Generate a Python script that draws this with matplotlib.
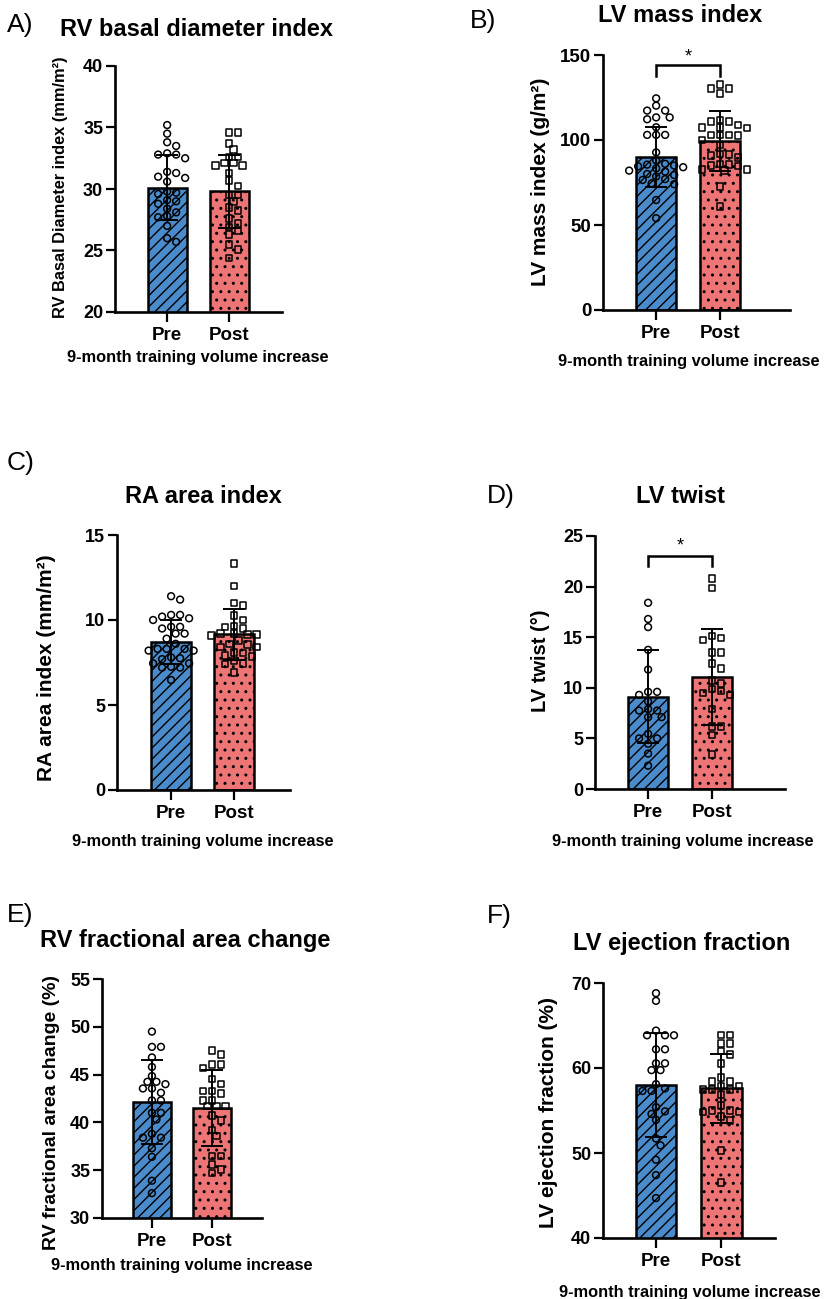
import numpy as np
import matplotlib
matplotlib.use("Agg")
import matplotlib.pyplot as plt

plt.rcParams['font.family'] = ['Liberation Sans', 'DejaVu Sans']
plt.rcParams['hatch.linewidth'] = 1.0

W, H = 832, 1299

groups = ['Pre', 'Post']
xlabel_text = '9-month training volume increase'

# --- panel A: RV basal diameter index
rvbd_pre = [35.2, 34.5, 33.8, 33.5, 32.9, 32.8, 32.8, 32.5, 31.4, 31.3, 31.0, 30.9, 30.6,
            29.8, 29.7, 29.6, 29.1, 29.0, 28.8, 28.4, 28.1, 27.8, 27.7, 27.0, 26.0, 25.7]
rvbd_post = [34.6, 34.6, 33.7, 33.2, 32.6, 32.6, 32.1, 32.1, 31.9, 31.9, 31.3, 30.7, 30.25,
             29.5, 29.5, 29.0, 28.5, 28.25, 27.6, 27.2, 26.9, 26.6, 26.3, 25.5, 25.1, 24.4]
rvbd_mean = [30.1, 29.8]
rvbd_sd = [2.65, 2.95]

# --- panel B: LV mass index
lvm_pre = [124.5, 120.2, 117.3, 117.3, 113.3, 113.3, 112.2, 107.5, 103, 103, 103, 92.7,
           88, 86, 85.5, 85, 84.5, 84, 83.3, 82, 81.4, 80, 79.4, 78.5, 77, 76.5, 74.5, 74,
           64.7, 54]
lvm_post = [132.7, 130.4, 130.4, 127.5, 111.8, 110.8, 110.8, 108.8, 107.5, 107.5, 107,
            103, 103, 103, 102.5, 100, 97, 91.8, 91.5, 91, 89.8, 86, 85.5, 85, 84.7, 82.7,
            82.5, 82, 72.5, 60.8]
lvm_mean = [90.0, 99.5]
lvm_sd = [17.7, 17.6]

# --- panel C: RA area index
ra_pre = [11.4, 11.2, 10.3, 10.3, 10.2, 10.1, 10.0, 9.6, 9.6, 9.5, 9.2, 9.2, 8.9, 8.6,
          8.3, 8.3, 8.3, 8.2, 8.2, 7.8, 7.75, 7.7, 7.45, 7.45, 7.25, 7.2, 7.2, 6.47]
ra_post = [13.33, 12.0, 11.0, 10.85, 10.25, 10.0, 9.65, 9.6, 9.5, 9.2, 9.2, 9.15, 9.15,
           9.1, 8.8, 8.6, 8.55, 8.4, 8.4, 8.1, 8.05, 7.9, 7.85, 7.6, 7.45, 7.4, 6.9]
ra_mean = [8.7, 9.15]
ra_sd = [1.3, 1.5]

# --- panel D: LV twist
tw_pre = [18.4, 16.8, 16.0, 13.75, 11.8, 9.6, 9.6, 9.3, 8.65, 7.9, 7.75, 7.75, 7.1, 7.1,
          5.45, 5.0, 5.0, 4.47, 3.5, 2.3]
tw_post = [20.8, 19.85, 15.1, 14.9, 14.7, 13.5, 13.5, 12.4, 11.9, 10.7, 10.45, 9.9, 9.7,
           9.5, 9.3, 7.9, 6.2, 6.2, 5.35, 3.4]
tw_mean = [9.1, 11.1]
tw_sd = [4.6, 4.75]

# --- panel E: RV fractional area change
fac_pre = [49.5, 47.9, 47.9, 46.8, 45.8, 44.85, 44.25, 44.25, 44.0, 43.55, 43.55, 43.1,
           42.3, 42.3, 41.0, 41.0, 40.3, 38.8, 38.4, 38.4, 37.3, 36.4, 33.9, 32.6]
fac_post = [47.5, 47.1, 46.05, 46.05, 45.7, 44.55, 44.0, 43.3, 43.3, 43.0, 42.3, 42.3,
            41.7, 41.7, 41.7, 40.7, 40.2, 39.2, 38.6, 36.5, 36.5, 35.6, 35.1, 34.7]
fac_mean = [42.1, 41.5]
fac_sd = [4.4, 4.0]

# --- panel F: LV ejection fraction
ef_pre = [68.8, 67.9, 64.4, 63.85, 63.85, 63.85, 62.2, 62.2, 60.55, 60.55, 59.75, 59.75,
          58.1, 57.6, 57.3, 57.3, 55.4, 54.9, 54.6, 53.9, 51.7, 50.9, 49.2, 47.4, 44.7]
ef_post = [63.9, 63.9, 62.9, 62.9, 62.0, 61.6, 60.55, 58.9, 58.4, 58.4, 57.9, 57.9, 57.5,
           57.5, 57.5, 56.9, 55.6, 55.0, 55.0, 54.8, 54.8, 54.3, 53.8, 50.3, 46.5]
ef_mean = [58.0, 57.6]
ef_sd = [6.15, 4.1]

BLUE = '#4A8BCB'
RED = '#EE7575'


def fx(x):
    return x / W


def fy(y):
    return 1 - y / H


def swarm(ax, values, xc, step=4.5, mind=7.2):
    # simple beeswarm: offsets in pixels, converted back to data units
    vals = np.asarray(values, float)
    placed = []
    off = np.zeros(len(vals))
    cands = [0.0] + [s * j * step for j in range(1, 10) for s in (1, -1)]
    for i in np.argsort(-vals, kind='stable'):
        ypx = ax.transData.transform((xc, vals[i]))[1]
        for c in cands:
            if all((c - px) ** 2 + (ypx - py) ** 2 >= mind ** 2 for px, py in placed):
                break
        placed.append((c, ypx))
        off[i] = c
    ppu = ax.transData.transform((1, 0))[0] - ax.transData.transform((0, 0))[0]
    return xc + off / ppu


def panel(box, xlim, ylim, yticks, pre, post, mean, sd, tick_fs=13):
    x0, ytop, x1, ybot = box
    ax = fig.add_axes([fx(x0), fy(ybot), (x1 - x0) / W, (ybot - ytop) / H])
    ax.set_xlim(*xlim)
    ax.set_ylim(*ylim)
    for s in ('top', 'right'):
        ax.spines[s].set_visible(False)
    for s in ('left', 'bottom'):
        ax.spines[s].set_linewidth(1.9)
    bars = ax.bar([0, 1], mean, width=0.63, color=[BLUE, RED], edgecolor='black',
                  linewidth=1.8, zorder=2)
    bars[0].set_hatch('///')
    bars[1].set_hatch('..')
    ax.scatter(swarm(ax, pre, 0), pre, s=24, marker='o', facecolors='none',
               edgecolors='black', linewidths=1.1, zorder=3, clip_on=False)
    ax.scatter(swarm(ax, post, 1), post, s=22, marker='s', facecolors='none',
               edgecolors='black', linewidths=1.1, zorder=3, clip_on=False)
    ax.errorbar([0, 1], mean, yerr=sd, fmt='none', ecolor='black', elinewidth=1.4,
                capsize=8, capthick=1.4, zorder=4)
    ax.set_yticks(yticks)
    ax.set_xticks([0, 1])
    ax.set_xticklabels(groups, fontsize=13.5, fontweight='bold')
    ax.tick_params(axis='y', length=6.5, width=1.6, labelsize=tick_fs, pad=2)
    ax.tick_params(axis='x', length=7, width=1.6, pad=4)
    for lab in ax.get_yticklabels():
        lab.set_fontweight('bold')
    return ax


def bracket(ax, y0, y1, ystar):
    ax.plot([0, 0, 1, 1], [y0, y1, y1, y0], color='black', lw=1.8, clip_on=False,
            solid_joinstyle='miter', zorder=5)
    ax.text(0.5, ystar, '*', ha='center', va='center', fontsize=13)


fig = plt.figure(figsize=(W / 100, H / 100), dpi=100)

axA = panel((115, 66, 282, 312), (-0.84, 1.85), (20, 40), [20, 25, 30, 35, 40],
            rvbd_pre, rvbd_post, rvbd_mean, rvbd_sd)
axB = panel((603, 55, 790, 310), (-0.83, 2.09), (0, 150), [0, 50, 100, 150],
            lvm_pre, lvm_post, lvm_mean, lvm_sd, tick_fs=13.5)
bracket(axB, 137.6, 144.1, 149)
axC = panel((117, 535, 290, 790), (-0.86, 1.89), (0, 15), [0, 5, 10, 15],
            ra_pre, ra_post, ra_mean, ra_sd)
axD = panel((595, 536, 785, 789), (-0.83, 2.14), (0, 25), [0, 5, 10, 15, 20, 25],
            tw_pre, tw_post, tw_mean, tw_sd)
bracket(axD, 22.0, 23.0, 24.0)
axE = panel((102, 979, 262, 1218), (-0.83, 1.83), (30, 55), [30, 35, 40, 45, 50, 55],
            fac_pre, fac_post, fac_mean, fac_sd)
axF = panel((603, 983, 775, 1238), (-0.815, 1.83), (40, 70), [40, 50, 60, 70],
            ef_pre, ef_post, ef_mean, ef_sd)

# panel letters
for lab, x, y in [('A)', 7, 32), ('B)', 470, 28), ('C)', 7, 470), ('D)', 487, 503),
                  ('E)', 7, 922), ('F)', 487, 923)]:
    fig.text(fx(x), fy(y), lab, fontsize=19, ha='left', va='baseline')

# titles
for t, x, y in [('RV basal diameter index', 197, 36), ('LV mass index', 680, 22),
                ('RA area index', 203, 503), ('LV twist', 680, 503),
                ('RV fractional area change', 185, 947), ('LV ejection fraction', 682, 950)]:
    fig.text(fx(x), fy(y), t, fontsize=17, fontweight='bold', ha='center', va='baseline')

# y-axis labels
for t, x, y, fs in [('RV Basal Diameter index (mm/m²)', 61, 187, 11.8),
                    ('LV mass index (g/m²)', 540, 182, 15),
                    ('RA area index (mm/m²)', 47, 668, 15),
                    ('LV twist (°)', 540, 661, 14.5),
                    ('RV fractional area change (%)', 52, 1112, 14),
                    ('LV ejection fraction (%)', 548, 1112, 15)]:
    fig.text(fx(x), fy(y), t, fontsize=fs, fontweight='bold', rotation=90,
             ha='center', va='center')

# x-axis labels
for x, y in [(198, 362), (689, 366), (203, 846), (683, 846), (182, 1270), (690, 1297)]:
    fig.text(fx(x), fy(y), xlabel_text, fontsize=11.8, fontweight='bold',
             ha='center', va='baseline')

fig.savefig('out.png', dpi=100)
